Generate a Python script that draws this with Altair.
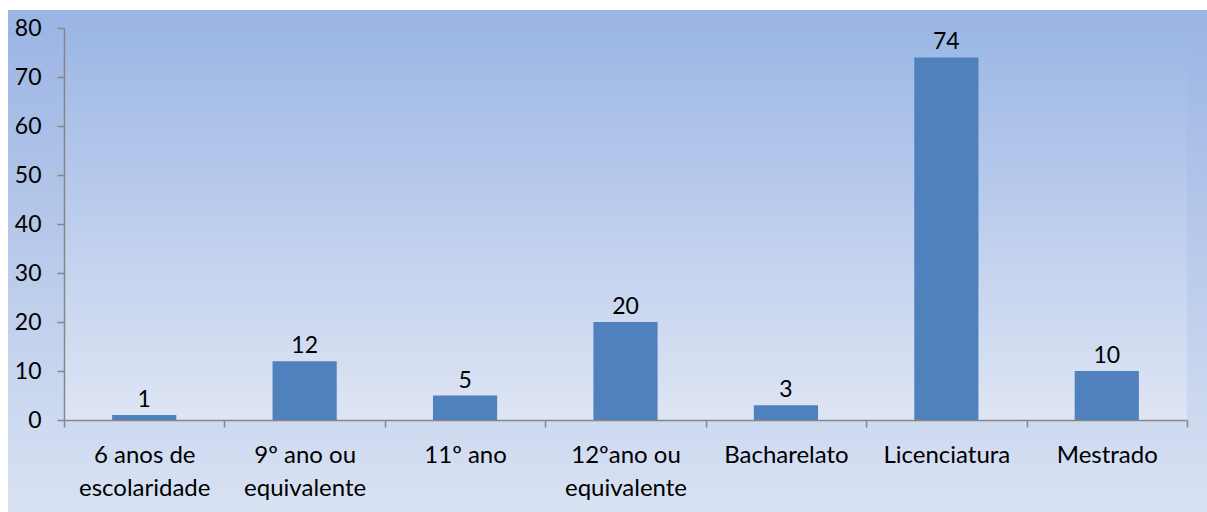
import altair as alt
import pandas as pd

# Education level categories ("|" marks the line break in the axis label)
categories = [
    "6 anos de|escolaridade",
    "9º ano ou|equivalente",
    "11º ano",
    "12ºano ou|equivalente",
    "Bacharelato",
    "Licenciatura",
    "Mestrado",
]
counts = [1, 12, 5, 20, 3, 74, 10]

df = pd.DataFrame({"nivel": categories, "n": counts})
one = pd.DataFrame({"k": [0]})

W, H = 1123, 392
PAD_L, PAD_T, PAD_R, PAD_B = 64, 28, 20, 92
FONT = "Lato"
AXIS_GRAY = "#868686"


def vgrad(top, bottom):
    return alt.Gradient(
        gradient="linear",
        stops=[alt.GradientStop(color=top, offset=0),
               alt.GradientStop(color=bottom, offset=1)],
        x1=0, x2=0, y1=0, y2=1,
    )


# Chart-area background (extends beyond the plot area)
bg_outer = alt.Chart(one).mark_rect(color=vgrad("#9ab4e3", "#d9e2f3")).encode(
    x=alt.value(8 - PAD_L),
    x2=alt.value(W + PAD_R),
    y=alt.value(10 - PAD_T),
    y2=alt.value(H + PAD_B),
)

# Plot-area background
bg_plot = alt.Chart(one).mark_rect(color=vgrad("#9cb7e5", "#dee5f4")).encode(
    x=alt.value(0),
    x2=alt.value(W),
    y=alt.value(0),
    y2=alt.value(H),
)

x_enc = alt.X(
    "nivel:N",
    sort=categories,
    title=None,
    scale=alt.Scale(paddingInner=0, paddingOuter=0),
    axis=alt.Axis(
        labelAngle=0,
        labelExpr="split(datum.label, '|')",
        labelLineHeight=33,
        labelFont=FONT,
        labelFontSize=24,
        labelColor="#000000",
        labelPadding=16,
        tickBand="extent",
        tickSize=7,
        tickColor=AXIS_GRAY,
        tickWidth=1.5,
        domainColor=AXIS_GRAY,
        domainWidth=1.5,
        zindex=1,
    ),
)

y_enc = alt.Y(
    "n:Q",
    title=None,
    scale=alt.Scale(domain=[0, 80], nice=False),
    axis=alt.Axis(
        values=list(range(0, 81, 10)),
        grid=False,
        labelFont=FONT,
        labelFontSize=23,
        labelColor="#000000",
        labelPadding=16,
        tickSize=7,
        tickColor=AXIS_GRAY,
        tickWidth=1.5,
        domainColor=AXIS_GRAY,
        domainWidth=1.5,
        zindex=1,
    ),
)

bars = alt.Chart(df).mark_bar(color="#4f81bd", width={"band": 0.4}).encode(
    x=x_enc, y=y_enc
)

labels = alt.Chart(df).mark_text(
    font=FONT, fontSize=23, color="#000000", baseline="alphabetic", dy=-8
).encode(x=alt.X("nivel:N", sort=categories), y="n:Q", text="n:Q")

chart = (
    alt.layer(bg_outer, bg_plot, bars, labels)
    .properties(
        width=W,
        height=H,
        autosize=alt.AutoSizeParams(type="none"),
        padding={"left": PAD_L, "top": PAD_T, "right": PAD_R, "bottom": PAD_B},
        background="#ffffff",
    )
    .configure_view(stroke=None)
)

chart.save("out.html", embed_options={"renderer": "svg", "actions": False})
